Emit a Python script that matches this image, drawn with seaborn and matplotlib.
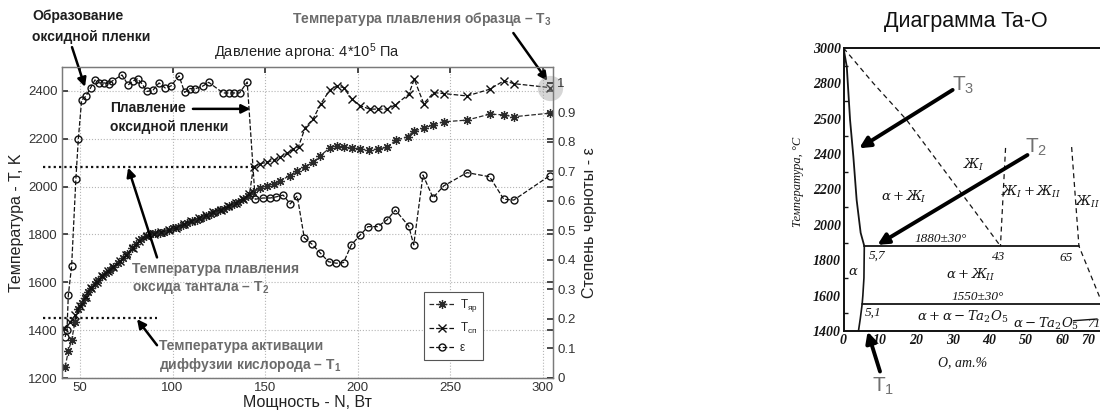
import matplotlib
matplotlib.use("Agg")
import matplotlib.pyplot as plt
import matplotlib.transforms as mtransforms
import seaborn as sns

# ---------------- measured data: power sweep in argon ----------------
# core ("яр") temperature, K
n_core = [42.0, 43.7, 45.5, 47.3, 49.0, 51.0, 52.7, 54.5, 56.2, 58.0, 60.0, 62.0, 64.0, 66.0,
          68.0, 70.5, 73.0, 75.5, 78.0, 80.5, 83.0, 85.5, 88.0, 90.5, 93.0, 95.5, 98.0, 100.5,
          103.0, 105.5, 108.0, 110.5, 113.0, 115.5, 118.0, 120.5, 123.0, 125.5, 128.0, 130.5,
          133.0, 135.5, 138.0, 140.5, 143.5, 147.0, 151.0, 154.5, 158.0, 163.5, 167.1, 171.6,
          175.8, 179.7, 184.8, 188.8, 192.3, 196.9, 201.4, 205.8, 210.7, 215.8, 220.8, 226.9,
          230.2, 235.6, 240.6, 246.4, 259.0, 271.2, 278.8, 284.2, 303.7]
t_core = [1246, 1312, 1358, 1433, 1487, 1515, 1535, 1560, 1578, 1595, 1610, 1625, 1640, 1652,
          1664, 1680, 1700, 1718, 1745, 1762, 1780, 1792, 1800, 1805, 1808, 1812, 1818, 1826,
          1832, 1840, 1847, 1855, 1862, 1870, 1878, 1886, 1893, 1901, 1908, 1917, 1926, 1936,
          1947, 1960, 1978, 1995, 2004, 2012, 2025, 2046, 2067, 2083, 2101, 2129, 2161, 2171,
          2164, 2161, 2157, 2153, 2157, 2164, 2195, 2208, 2233, 2243, 2258, 2271, 2278, 2303,
          2300, 2292, 2307]

# surface ("сп") temperature, K
n_surf = [41.5, 44.5, 47.5, 50.2, 53.0, 56.0, 59.0, 62.0, 65.0, 68.0, 71.5, 75.0, 78.5, 82.0,
          86.0, 90.0, 94.0, 98.0, 102.0, 106.0, 110.0, 114.0, 118.0, 122.0, 126.0, 130.0, 134.0,
          138.0, 141.5, 143.7, 147.3, 150.9, 154.5, 158.1, 161.7, 165.1, 168.0, 171.6, 175.8,
          180.1, 184.8, 188.8, 192.3, 196.9, 201.4, 206.4, 210.7, 215.8, 220.3, 227.5, 230.5,
          235.6, 241.0, 246.4, 259.0, 271.2, 278.8, 284.6, 303.7]
t_surf = [1410, 1432, 1462, 1500, 1540, 1575, 1603, 1627, 1646, 1665, 1688, 1715, 1745, 1772,
          1795, 1804, 1810, 1817, 1828, 1842, 1855, 1868, 1880, 1892, 1904, 1917, 1932, 1948,
          1968, 2083, 2096, 2101, 2111, 2122, 2139, 2156, 2167, 2247, 2282, 2347, 2403, 2421,
          2414, 2365, 2338, 2324, 2324, 2324, 2342, 2386, 2449, 2347, 2393, 2389, 2379, 2407,
          2442, 2430, 2414]

# emissivity
n_eps = [42.0, 43.0, 43.7, 45.5, 47.8, 49.1, 50.9, 53.2, 55.7, 58.1, 60.5, 63.2, 65.7, 67.5,
         72.7, 76.0, 78.6, 81.1, 83.5, 86.2, 89.5, 92.7, 96.0, 99.2, 103.5, 106.5, 109.5, 112.0,
         116.5, 119.5, 127.3, 130.3, 133.2, 136.2, 140.3, 144.6, 148.9, 152.7, 156.0, 159.7,
         163.5, 167.3, 171.1, 175.2, 179.7, 184.2, 188.4, 192.3, 196.5, 201.4, 205.5, 210.7,
         215.8, 220.3, 227.5, 230.2, 235.2, 240.6, 246.4, 259.0, 271.2, 278.8, 284.2, 303.7]
eps = [0.139, 0.163, 0.280, 0.380, 0.675, 0.809, 0.942, 0.955, 0.983, 1.010, 1.000, 1.000,
       0.997, 1.007, 1.027, 0.993, 1.007, 1.014, 0.997, 0.971, 0.976, 1.000, 0.983, 0.990,
       1.024, 0.968, 0.981, 0.980, 0.990, 1.002, 0.966, 0.966, 0.966, 0.966, 1.003, 0.606,
       0.610, 0.610, 0.614, 0.620, 0.590, 0.617, 0.475, 0.454, 0.424, 0.394, 0.389, 0.391,
       0.451, 0.485, 0.513, 0.513, 0.536, 0.569, 0.515, 0.451, 0.688, 0.611, 0.651, 0.696,
       0.682, 0.606, 0.603, 0.686]

n_ticks = [50, 100, 150, 200, 250, 300]
t_ticks = [1200, 1400, 1600, 1800, 2000, 2200, 2400]
eps_ticks = [0, 0.1, 0.2, 0.3, 0.4, 0.5, 0.6, 0.7, 0.8, 0.9, 1.0]
eps_labels = ["0", "0.1", "0.2", "0.3", "0.4", "0.5", "0.6", "0.7", "0.8", "0.9", "1"]

# characteristic temperatures, K, and where their guide lines end (W)
t_oxide_melt = 2080
t_diffusion = 1450
guide_start = 30.0
guide_end = [143.5, 91.6]

# ---------------- Ta-O phase diagram ----------------
ph_xticks = [0, 10, 20, 30, 40, 50, 60, 70]
ph_yticks = [1400, 1600, 1800, 2000, 2200, 2400, 2600, 2800, 3000]
ph_ylabels = ["1400", "1600", "1800", "2000", "2200", "2400", "2500", "2800", "3000"]

liq_x = [0, 0.9, 1.8, 2.7, 3.6, 4.7, 5.7]
liq_t = [3000, 2894, 2593, 2386, 2141, 1955, 1880]
alpha_x = [5.7, 5.6, 5.3, 5.1, 4.6, 4.1]
alpha_t = [1880, 1700, 1600, 1550, 1470, 1400]
mix_x = [0, 8.2, 17.3, 35.7, 43]
mix_t = [3000, 2800, 2593, 2085, 1880]
l43_x = [44.4, 43.0]
l43_t = [2435, 1880]
l65_x = [62.5, 64.5, 71.0]
l65_t = [2440, 1880, 1550]
eut1_x = [5.7, 64.5]
eut1_t = [1880, 1880]
eut2_x = [5.1, 80]
eut2_t = [1550, 1550]
ta2o5_x = [71.0, 71.0]
ta2o5_t = [1550, 1400]

# ---------------- figure ----------------
sns.set_theme(style="white")
plt.rcParams["font.family"] = ["Liberation Sans", "DejaVu Sans"]
plt.rcParams["mathtext.fontset"] = "custom"
plt.rcParams["mathtext.rm"] = "Liberation Sans"
plt.rcParams["mathtext.it"] = "Liberation Sans:italic"
plt.rcParams["mathtext.bf"] = "Liberation Sans:bold"

W, H = 1100, 416
fig = plt.figure(figsize=(W / 100, H / 100), dpi=100)
fig.patch.set_facecolor("white")


def box(x0, y0, x1, y1):
    return [x0 / W, 1 - y1 / H, (x1 - x0) / W, (y1 - y0) / H]


def fx(x):
    return x / W


def fy(y):
    return 1 - y / H


ax = fig.add_axes(box(62, 67, 553, 378))
ax2 = ax.twinx()

line_col = "#2a2a2a"
sns.lineplot(x=n_core, y=t_core, ax=ax, estimator=None, sort=False, color=line_col,
             linestyle="--", lw=0.9, marker=(8, 2, 0), markersize=6.5, markeredgewidth=0.9,
             markeredgecolor=line_col)
h_core = ax.lines[-1]
sns.lineplot(x=n_surf, y=t_surf, ax=ax, estimator=None, sort=False, color="#111111",
             linestyle="--", lw=0.9, marker="x", markersize=5.5, markeredgewidth=1.0,
             markeredgecolor="#111111")
h_surf = ax.lines[-1]
sns.lineplot(x=n_eps, y=eps, ax=ax2, estimator=None, sort=False, color="#111111",
             linestyle="--", lw=0.9, marker="o", markersize=5, markerfacecolor="none",
             markeredgewidth=1.0, markeredgecolor="#111111")
h_eps = ax2.lines[-1]

# highlighted melting point of the sample
ax.scatter([n_surf[-1]], [t_surf[-1]], s=330, color="#9a9a9a", alpha=0.4, lw=0,
           clip_on=False, zorder=5)

ax.set_xlim(40.3, 305.4)
ax.set_ylim(1200, 2500)
ax2.set_ylim(0, 1.054)
ax.set_xticks(n_ticks)
ax.set_yticks(t_ticks)
ax2.set_yticks(eps_ticks)
ax2.set_yticklabels(eps_labels)
ax.grid(True, linestyle=":", color="#b5b5b5", lw=0.8)
ax2.grid(False)
for a in (ax, ax2):
    for s in a.spines.values():
        s.set_color("#7a7a7a")
        s.set_linewidth(0.9)
ax.tick_params(axis="both", direction="in", labelsize=9.5, colors="#333333", length=4,
               top=True, right=True, pad=3)
ax2.tick_params(axis="y", direction="in", labelsize=9.5, colors="#333333", length=4, pad=3)

ax.set_xlabel("Мощность - N, Вт", fontsize=11.5, color="#222222")
ax.set_ylabel("Температура - T, K", fontsize=11.5, color="#222222")
ax2.set_ylabel("Степень черноты - ε", fontsize=11.5, color="#222222")
ax.xaxis.set_label_coords(0.5, -0.055)
ax.yaxis.set_label_coords(-0.078, 0.5)
ax2.yaxis.set_label_coords(1.06, 0.5)
ax.set_title("Давление аргона: 4*10$^5$ Па", fontsize=10.5, color="#222222", pad=7)

# guide lines for characteristic temperatures
for lvl, end in zip([t_oxide_melt, t_diffusion], guide_end):
    ax.plot([guide_start, end], [lvl, lvl], ls=(0, (1, 1.4)), color="#111111", lw=1.6,
            clip_on=False, zorder=4)

arrow_kw = dict(arrowstyle="-|>", color="black", lw=1.8, mutation_scale=13,
                shrinkA=0, shrinkB=0)
ax.annotate("", xy=(52.7, 2417), xytext=(45.7, 2583), arrowprops=arrow_kw,
            annotation_clip=False)
ax.annotate("", xy=(142.0, 2325), xytext=(111.0, 2325), arrowprops=arrow_kw,
            annotation_clip=False)
ax.annotate("", xy=(302.4, 2442), xytext=(284.0, 2642), arrowprops=arrow_kw,
            annotation_clip=False)
ax.annotate("", xy=(76.0, 2079), xytext=(91.6, 1704), arrowprops=arrow_kw,
            annotation_clip=False)
ax.annotate("", xy=(80.8, 1446), xytext=(91.6, 1337), arrowprops=arrow_kw,
            annotation_clip=False)

dark, grey = "#1e1e1e", "#6b6b6b"
bold = dict(fontsize=10, fontweight="bold", va="center")
fig.text(fx(32), fy(16), "Образование", color=dark, ha="left", **bold)
fig.text(fx(32), fy(37), "оксидной пленки", color=dark, ha="left", **bold)
fig.text(fx(552), fy(19), r"Температура плавления образца – T$_\mathbf{3}$", color=grey,
         ha="right", **bold)
fig.text(fx(110), fy(108), "Плавление", color=dark, ha="left", **bold)
fig.text(fx(110), fy(127), "оксидной пленки", color=dark, ha="left", **bold)
fig.text(fx(132), fy(269), "Температура плавления", color=grey, ha="left", **bold)
fig.text(fx(132), fy(288), r"оксида тантала – T$_\mathbf{2}$", color=grey, ha="left", **bold)
fig.text(fx(159), fy(346), "Температура активации", color=grey, ha="left", **bold)
fig.text(fx(159), fy(365), r"диффузии кислорода – T$_\mathbf{1}$", color=grey, ha="left",
         **bold)

leg = ax2.legend(handles=[h_core, h_surf, h_eps],
                 labels=[r"T$_\mathrm{яр}$", r"T$_\mathrm{сп}$", "ε"],
                 loc="upper left", bbox_to_anchor=(fx(424), fy(292)),
                 bbox_transform=fig.transFigure, fontsize=8.5, frameon=True,
                 fancybox=False, edgecolor="#555555", framealpha=1, handlelength=2.2,
                 borderpad=0.45, labelspacing=0.55, handletextpad=0.4, borderaxespad=0)
leg.get_frame().set_linewidth(0.8)

# ---------------- Ta-O phase diagram panel ----------------
px0, py_top, py_bot = 843.5, 48, 331
axp = fig.add_axes(box(px0, py_top, px0 + 80 * 3.65, py_bot))
axp.set_xlim(0, 80)
axp.set_ylim(1400, 3000)
axp.set_facecolor("white")
for s in axp.spines.values():
    s.set_color("#111111")
    s.set_linewidth(1.4)

ink = "#151515"
sns.lineplot(x=liq_x, y=liq_t, ax=axp, estimator=None, sort=False, color=ink, lw=1.3)
sns.lineplot(x=alpha_x, y=alpha_t, ax=axp, estimator=None, sort=False, color=ink, lw=1.2)
sns.lineplot(x=eut1_x, y=eut1_t, ax=axp, estimator=None, sort=False, color=ink, lw=1.3)
sns.lineplot(x=eut2_x, y=eut2_t, ax=axp, estimator=None, sort=False, color=ink, lw=1.3)
sns.lineplot(x=ta2o5_x, y=ta2o5_t, ax=axp, estimator=None, sort=False, color=ink, lw=1.3)
for xs, ts in [(mix_x, mix_t), (l43_x, l43_t), (l65_x, l65_t)]:
    sns.lineplot(x=xs, y=ts, ax=axp, estimator=None, sort=False, color=ink, lw=0.9,
                 dashes=False, linestyle=(0, (4, 3)))
axp.plot([63.0, 69.5], [1458, 1468], color=ink, lw=1.0)

axp.set_xticks(ph_xticks)
axp.set_yticks(ph_yticks)
axp.set_yticks([1500, 1700, 1900, 2100, 2300, 2500, 2700, 2900], minor=True)
axp.set_yticklabels(ph_ylabels)
axp.tick_params(axis="both", which="both", direction="in", colors=ink, width=1.0)
axp.tick_params(axis="both", which="major", length=5, pad=2)
axp.tick_params(axis="y", which="minor", length=3, left=True)
for lab in axp.get_xticklabels() + axp.get_yticklabels():
    lab.set_family("Liberation Serif")
    lab.set_style("italic")
    lab.set_weight("bold")
    lab.set_fontsize(10)
# the last composition label sits at the panel's right border
last = axp.get_xticklabels()[-1]
last.set_ha("right")
last.set_transform(last.get_transform() +
                   mtransforms.ScaledTranslation(-2.5 / 72, 0, fig.dpi_scale_trans))
axp.grid(False)

fig.text(fx(966), fy(22), "Диаграмма Ta-O", fontsize=15.5, ha="center", va="center",
         color="#111111")
fig.text(fx(798), fy(182), "Температура, °С", rotation=90, fontsize=9, ha="center",
         va="center", family="Liberation Serif", style="italic", color=ink)
fig.text(fx(963), fy(363), "О, ат.%", fontsize=10, ha="center", va="center",
         family="Liberation Serif", style="italic", color=ink)

ph_text = dict(color=ink, fontsize=9.5, ha="center", va="center", math_fontfamily="dejavuserif",
               family="Liberation Serif", style="italic")
axp.text(35.6, 2339, r"$Ж_I$", **ph_text)
axp.text(16.5, 2158, r"$\alpha + Ж_I$", **ph_text)
axp.text(51.4, 2187, r"$Ж_I + Ж_{II}$", **ph_text)
axp.text(66.8, 2130, r"$Ж_{II}$", **ph_text)
axp.text(26.7, 1922, "1880±30°", **ph_text)
axp.text(9.1, 1825, "5,7", **ph_text)
axp.text(42.6, 1820, "43", **ph_text)
axp.text(61.0, 1815, "65", **ph_text)
axp.text(2.6, 1735, r"$\alpha$", **ph_text)
axp.text(34.9, 1718, r"$\alpha + Ж_{II}$", **ph_text)
axp.text(36.7, 1593, "1550±30°", **ph_text)
axp.text(8.2, 1503, "5,1", **ph_text)
axp.text(32.6, 1480, r"$\alpha + \alpha - Ta_2O_5$", **ph_text)
axp.text(55.5, 1442, r"$\alpha - Ta_2O_5$", **ph_text)
axp.text(68.6, 1440, "71", **ph_text)

big_arrow = dict(arrowstyle="-|>", color="black", lw=2.8, mutation_scale=16,
                 shrinkA=0, shrinkB=0)
axp.annotate("", xy=(4.3, 2433), xytext=(29.9, 2763), arrowprops=big_arrow,
             annotation_clip=False)
axp.annotate("", xy=(9.3, 1887), xytext=(50.4, 2395), arrowprops=big_arrow,
             annotation_clip=False)
axp.annotate("", xy=(6.6, 1397), xytext=(10.0, 1171), arrowprops=big_arrow,
             annotation_clip=False)
t_lab = dict(color="#707070", fontsize=15, ha="center", va="center")
axp.text(32.8, 2791, r"T$_3$", **t_lab)
axp.text(52.8, 2437, r"T$_2$", **t_lab)
axp.text(11.0, 1085, r"T$_1$", clip_on=False, **t_lab)

fig.savefig("out.png", dpi=100)
